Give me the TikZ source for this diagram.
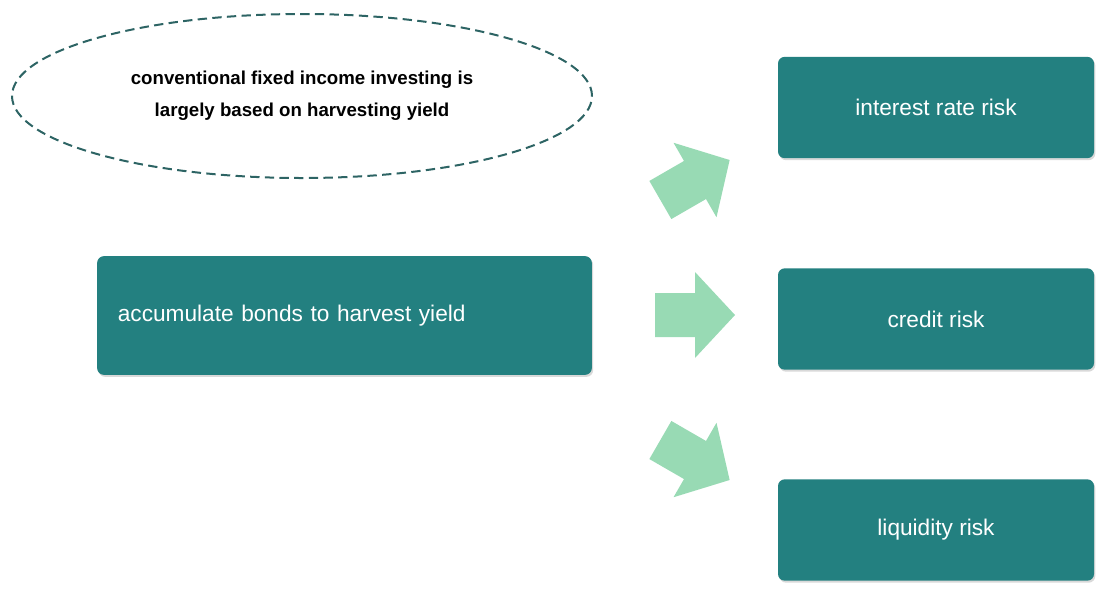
\documentclass[tikz,border=0pt]{standalone}
\usepackage{fontspec}
\setmainfont{Liberation Sans}
\usetikzlibrary{shapes.geometric,shadows}
\definecolor{tealbox}{RGB}{35,128,128}
\definecolor{tealline}{RGB}{45,100,100}
\definecolor{mint}{RGB}{152,218,180}
\tikzset{
  riskbox/.style={draw=none, fill=tealbox, rounded corners=5pt, text=white,
    minimum width=237pt, minimum height=76pt, font=\fontsize{17}{20}\selectfont,
    drop shadow={shadow xshift=1pt, shadow yshift=-1.5pt, opacity=0.3}},
  fatarrow/.style={fill=mint, draw=none}
}
\begin{document}
\begin{tikzpicture}[x=0.75pt, y=-0.75pt]
\useasboundingbox (0,0) rectangle (1107,597);

% ellipse note
\node[ellipse, draw=tealline, line width=1.5pt, dash pattern=on 7pt off 4pt,
  minimum width=435pt, minimum height=123pt, align=center,
  font=\bfseries\fontsize{14}{24}\selectfont] (note) at (302,96)
  {conventional fixed income investing is\\largely based on harvesting yield};

% boxes
\node[riskbox, minimum width=371pt, minimum height=89pt, text width=340pt, align=left] (bonds) at (344.5,315.5)
  {accumulate bonds to harvest yield};
\node[riskbox] (interest) at (936,107.5) {interest rate risk};
\node[riskbox] (credit) at (936,319) {credit risk};
\node[riskbox] (liquidity) at (936,530) {liquidity risk};

% arrows
\foreach \cy/\ang in {180/30, 315/0, 460/-30}{
  \begin{scope}[shift={(695,\cy)}, rotate=\ang]
    \fill[fatarrow] (-40,-22) -- (0,-22) -- (0,-43) -- (40,0) -- (0,43) -- (0,22) -- (-40,22) -- cycle;
  \end{scope}
}
\end{tikzpicture}
\end{document}
